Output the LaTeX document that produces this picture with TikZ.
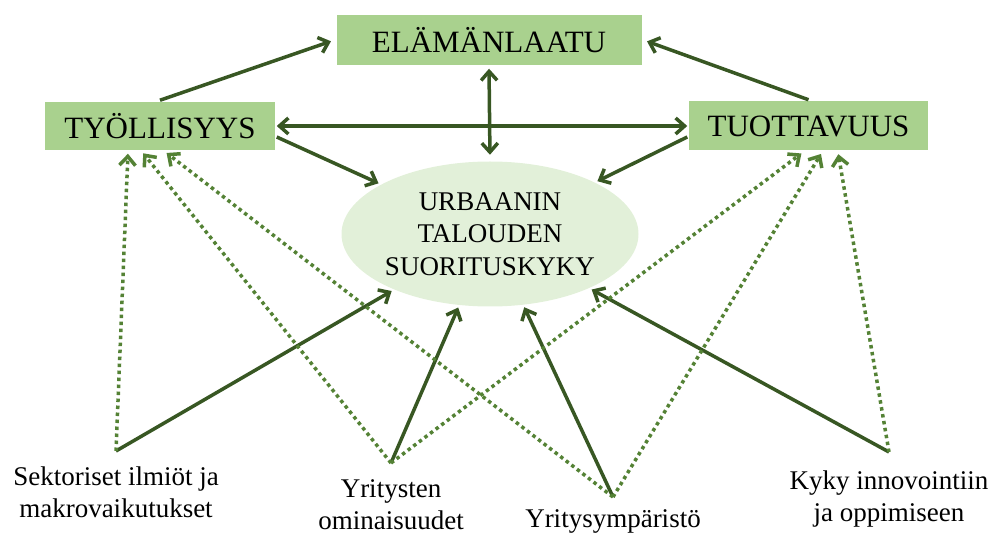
\documentclass[tikz,border=0pt]{standalone}
\usepackage{fontspec}
\setmainfont{Liberation Serif}
\usepackage{xcolor}
\usetikzlibrary{arrows.meta,positioning,shapes.geometric}
\definecolor{DARK}{HTML}{385723}
\definecolor{MID}{HTML}{548235}
\definecolor{BOX}{HTML}{A9D18E}
\definecolor{PALE}{HTML}{E2F0D9}

\begin{document}
\begin{tikzpicture}[x=1pt,y=-1pt,>={Straight Barb[length=9pt,width=16pt]},line width=3.5pt]
	\tikzstyle{factor}=[fill=BOX,inner sep=0pt,font=\fontsize{31}{37}\selectfont]
	\tikzstyle{outcome}=[ellipse,fill=PALE,inner sep=0pt,align=center,font=\fontsize{27}{32.5}\selectfont]
	\tikzstyle{driver}=[inner sep=0pt,align=center,font=\fontsize{27}{32}\selectfont]
	\tikzstyle{strong}=[->,DARK,shorten >=1pt]
	\tikzstyle{weak}=[->,MID,dash pattern=on 3.5pt off 3.5pt,shorten >=2pt]

	\useasboundingbox (0,0) rectangle (993,534);

	\node[factor,minimum width=305pt,minimum height=50pt] (L) at (489,40)    {ELÄMÄNLAATU};
	\node[factor,minimum width=230pt,minimum height=48pt] (T) at (160,126)   {TYÖLLISYYS};
	\node[factor,minimum width=239pt,minimum height=49pt] (P) at (808.5,126) {TUOTTAVUUS};
	\node[outcome,minimum width=290pt,minimum height=145pt] (U) at (490,234)
		{URBAANIN\\TALOUDEN\\SUORITUSKYKY};

	% converging points of the drivers
	\coordinate (s) at (116,451);
	\coordinate (y) at (391,463);
	\coordinate (e) at (613,497);
	\coordinate (k) at (889,452);

	\node[driver] (S) [below=14pt of s] {Sektoriset ilmiöt ja\\makrovaikutukset};
	\node[driver] (Y) [below=15pt of y] {Yritysten\\ominaisuudet};
	\node[driver] (E) [below=11pt of e] {Yritysympäristö};
	\node[driver] (K) [below=17pt of k] {Kyky innovointiin\\ja oppimiseen};

	\path
	(T.north)                 edge [strong, shorten >=4pt]    (L.west)
	(P.north)                 edge [strong, shorten >=4pt]    (L.east)
	(L.south)                 edge [strong, <->, shorten <=2pt, shorten >=5pt] (U.north)
	(T.east)                  edge [strong, <->, shorten >=0pt] (P.west)
	([yshift=-11pt]T.east)    edge [strong]                   (U)
	([yshift=-11pt]P.west)    edge [strong]                   (U)
	(s)                       edge [strong]                   (U)
	(y)                       edge [strong]                   (U)
	(e)                       edge [strong]                   (U)
	(k)                       edge [strong]                   (U)
	(s)                       edge [weak]   ([xshift=-32pt]T.south)
	(y)                       edge [weak]   ([xshift=-18pt]T.south)
	(e)                       edge [weak]   ([xshift=5pt]T.south)
	(y)                       edge [weak]   ([xshift=-5.5pt]P.south)
	(e)                       edge [weak]   ([xshift=13.5pt]P.south)
	(k)                       edge [weak]   ([xshift=29.5pt]P.south);
\end{tikzpicture}
\end{document}
